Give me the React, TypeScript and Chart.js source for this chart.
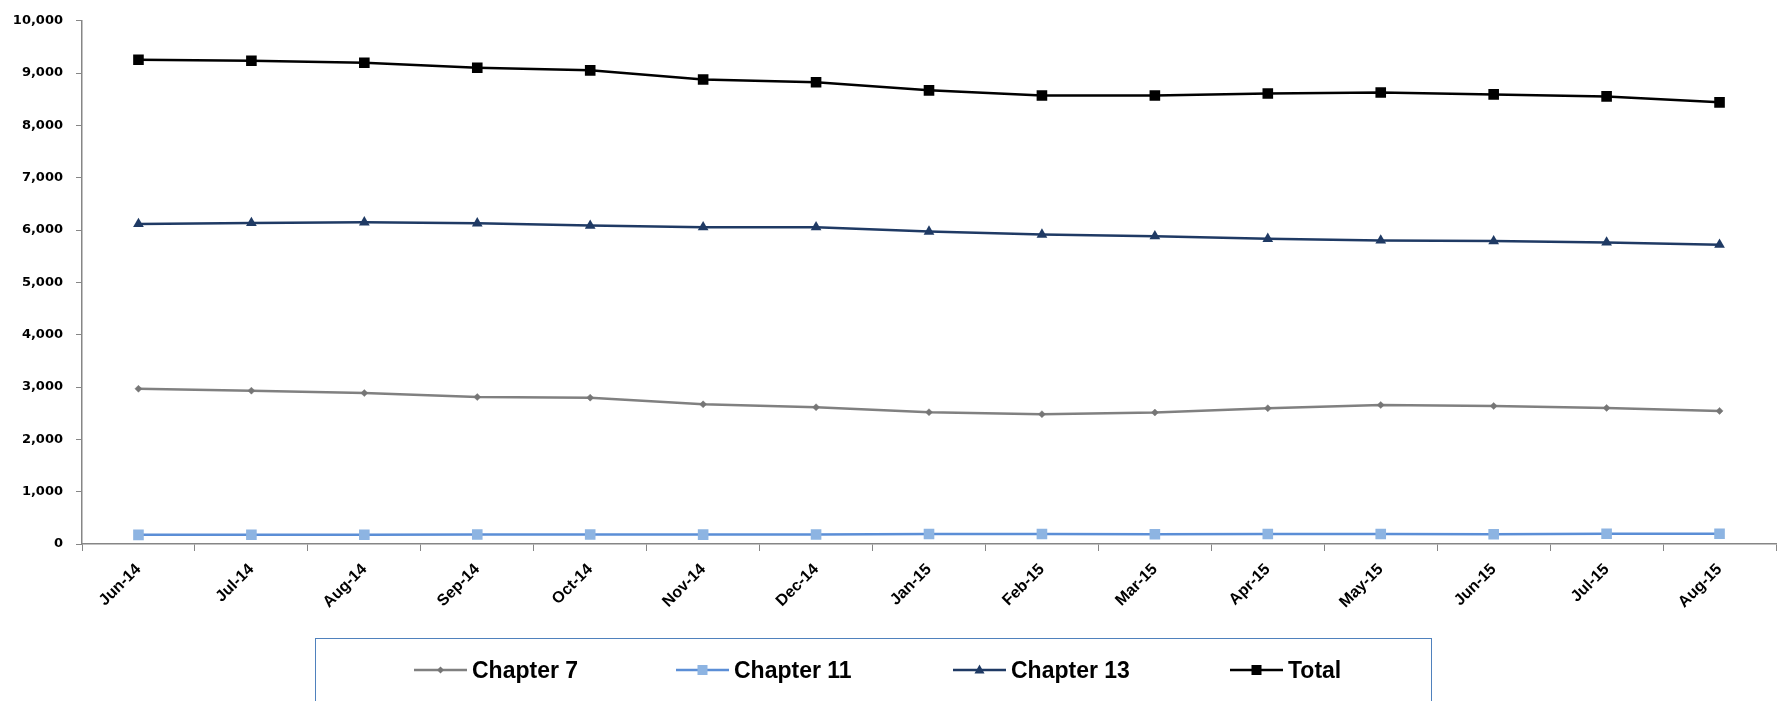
import React, { useEffect, useRef } from "react";
import { Chart, registerables } from "chart.js";

Chart.register(...registerables);

// ---- data ----
const categories = [
  "Jun-14", "Jul-14", "Aug-14", "Sep-14", "Oct-14", "Nov-14", "Dec-14",
  "Jan-15", "Feb-15", "Mar-15", "Apr-15", "May-15", "Jun-15", "Jul-15", "Aug-15",
];
const chapter7 = [2967, 2930, 2885, 2809, 2797, 2670, 2614, 2519, 2481, 2513, 2595, 2657, 2638, 2601, 2544];
const chapter11 = [175, 178, 178, 182, 182, 180, 182, 190, 190, 185, 190, 190, 185, 195, 195];
const chapter13 = [6117, 6136, 6149, 6130, 6086, 6055, 6055, 5972, 5915, 5884, 5833, 5801, 5789, 5763, 5720];
const total = [9255, 9237, 9199, 9104, 9053, 8877, 8826, 8671, 8573, 8573, 8611, 8630, 8593, 8555, 8441];
const seriesNames = ["Chapter 7", "Chapter 11", "Chapter 13", "Total"];
const yMin = 0;
const yMax = 10000;
const yStep = 1000;

// ---- styles ----
const AXIS_GRAY = "#868686";
const C7_LINE = "#808080";
const C7_POINT = "#767676";
const C11_LINE = "#5B8ED6";
const C11_POINT = "#8DB4E2";
const C13 = "#1F3A64";
const TOTAL = "#000000";

const W = 1786;
const H = 701;

const LegendIcon: React.FC<{ kind: string }> = ({ kind }) => {
  let line = TOTAL;
  let marker: React.ReactNode = null;
  if (kind === "Chapter 7") {
    line = C7_LINE;
    marker = <polygon points="26.5,6.5 30,10 26.5,13.5 23,10" fill={C7_POINT} />;
  } else if (kind === "Chapter 11") {
    line = C11_LINE;
    marker = <rect x={21.5} y={5} width={10} height={10} fill={C11_POINT} />;
  } else if (kind === "Chapter 13") {
    line = C13;
    marker = <polygon points="26.5,4.5 31.5,13.5 21.5,13.5" fill={C13} />;
  } else {
    line = TOTAL;
    marker = <rect x={21.5} y={5} width={10} height={10} fill={TOTAL} />;
  }
  return (
    <svg width={53} height={20} style={{ display: "block" }}>
      <line x1={0} y1={10} x2={53} y2={10} stroke={line} strokeWidth={2.5} />
      {marker}
    </svg>
  );
};

const legendLefts = [414, 676, 953, 1230];

export default function App() {
  const canvasRef = useRef<HTMLCanvasElement | null>(null);

  useEffect(() => {
    const canvas = canvasRef.current;
    if (!canvas) return;
    const chart = new Chart(canvas, {
      type: "line",
      data: {
        labels: categories,
        datasets: [
          {
            label: seriesNames[0],
            data: chapter7,
            borderColor: C7_LINE,
            backgroundColor: C7_POINT,
            borderWidth: 2.5,
            pointStyle: "rectRot",
            pointRadius: 3.5,
            pointBackgroundColor: C7_POINT,
            pointBorderColor: C7_POINT,
            pointBorderWidth: 0.5,
            tension: 0,
          },
          {
            label: seriesNames[1],
            data: chapter11,
            borderColor: C11_LINE,
            backgroundColor: C11_POINT,
            borderWidth: 2.5,
            pointStyle: "rect",
            pointRadius: 7.5,
            pointBackgroundColor: C11_POINT,
            pointBorderColor: C11_POINT,
            pointBorderWidth: 0,
            tension: 0,
          },
          {
            label: seriesNames[2],
            data: chapter13,
            borderColor: C13,
            backgroundColor: C13,
            borderWidth: 2.5,
            pointStyle: "triangle",
            pointRadius: 6.2,
            pointBackgroundColor: C13,
            pointBorderColor: C13,
            pointBorderWidth: 0,
            tension: 0,
          },
          {
            label: seriesNames[3],
            data: total,
            borderColor: TOTAL,
            backgroundColor: TOTAL,
            borderWidth: 2.5,
            pointStyle: "rect",
            pointRadius: 7.5,
            pointBackgroundColor: TOTAL,
            pointBorderColor: TOTAL,
            pointBorderWidth: 0,
            tension: 0,
          },
        ],
      },
      options: {
        responsive: false,
        maintainAspectRatio: false,
        animation: false,
        devicePixelRatio: 1,
        layout: { padding: { left: 0, right: 10, top: 16, bottom: 0 } },
        plugins: {
          legend: { display: false },
          tooltip: { enabled: false },
        },
        scales: {
          x: {
            type: "category",
            offset: true,
            grid: {
              display: true,
              offset: true,
              drawOnChartArea: false,
              drawTicks: true,
              tickLength: 7,
              color: AXIS_GRAY,
              lineWidth: 1,
            },
            border: { display: true, color: AXIS_GRAY, width: 1.5 },
            ticks: {
              minRotation: 45,
              maxRotation: 45,
              autoSkip: false,
              color: "#000000",
              padding: 9,
              font: { family: "'Liberation Sans', Arial, sans-serif", size: 16, weight: "bold" },
            },
            afterFit: (s: any) => {
              s.height = H - 544;
            },
          },
          y: {
            min: yMin,
            max: yMax,
            grid: {
              display: true,
              drawOnChartArea: false,
              drawTicks: true,
              tickLength: 6,
              color: AXIS_GRAY,
              lineWidth: 1,
            },
            border: { display: true, color: AXIS_GRAY, width: 1.5 },
            ticks: {
              stepSize: yStep,
              color: "#000000",
              padding: 13,
              font: { family: "'DejaVu Sans', Verdana, sans-serif", size: 13, weight: "bold" },
              callback: (v: any) => Number(v).toLocaleString("en-US"),
            },
            afterFit: (s: any) => {
              s.width = 82;
            },
          },
        },
      },
    });
    return () => chart.destroy();
  }, []);

  return (
    <div
      style={{
        position: "absolute",
        left: 0,
        top: 0,
        width: W,
        height: H,
        overflow: "hidden",
        background: "#ffffff",
      }}
    >
      <canvas
        ref={canvasRef}
        width={W}
        height={H}
        style={{ display: "block", width: W, height: H, position: "absolute", left: 0, top: 0 }}
      />
      <div
        style={{
          position: "absolute",
          left: 315,
          top: 638,
          width: 1117,
          height: 90,
          border: "1px solid #4F81BD",
          boxSizing: "border-box",
        }}
      />
      {seriesNames.map((name, i) => (
        <div
          key={name}
          style={{
            position: "absolute",
            left: legendLefts[i],
            top: 657,
            height: 26,
            display: "flex",
            alignItems: "center",
            gap: 5,
            fontFamily: "'Liberation Sans', Arial, sans-serif",
            fontWeight: "bold",
            fontSize: 23,
            color: "#000",
            whiteSpace: "nowrap",
          }}
        >
          <LegendIcon kind={name} />
          <span>{name}</span>
        </div>
      ))}
    </div>
  );
}
